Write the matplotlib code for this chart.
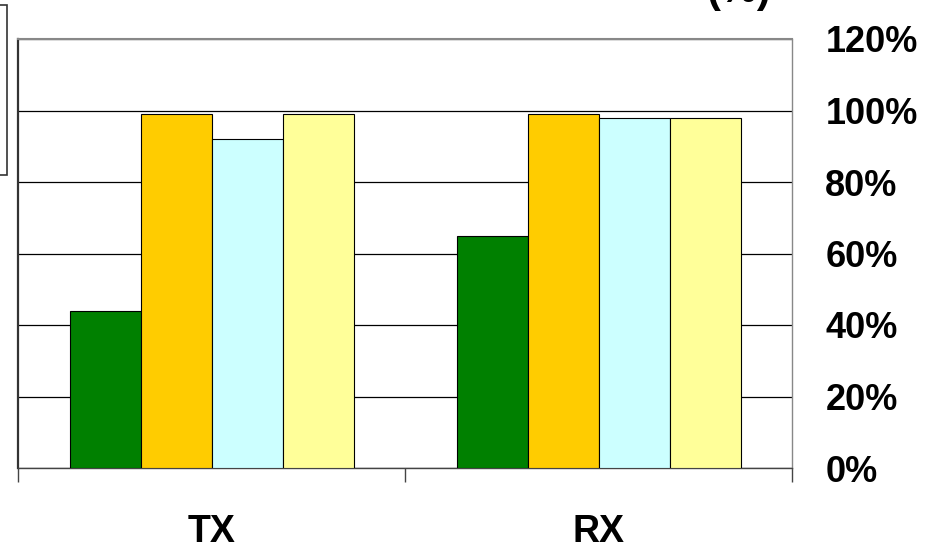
import numpy as np
import matplotlib
matplotlib.use('Agg')
from matplotlib import pyplot as plt
from matplotlib.patches import Rectangle

# data
categories = ['TX', 'RX']
series_green = [0.44, 0.65]
series_orange = [0.99, 0.99]
series_cyan = [0.92, 0.98]
series_yellow = [0.99, 0.98]
yticks = [0.0, 0.2, 0.4, 0.6, 0.8, 1.0, 1.2]
ytick_labels = ['0%', '20%', '40%', '60%', '80%', '100%', '120%']

colors = ['#008000', '#FFCC00', '#CCFFFF', '#FFFF99']
all_series = [series_green, series_orange, series_cyan, series_yellow]

plt.rcParams['font.family'] = ['Liberation Sans', 'DejaVu Sans']

W, H = 944, 551
fig = plt.figure(figsize=(W / 100, H / 100), dpi=100)
ax = fig.add_axes([18 / W, 83 / H, 774 / W, 429 / H])

x = np.arange(len(categories))
bw = 71 / 387
for i, (vals, c) in enumerate(zip(all_series, colors)):
    ax.bar(x + (i - 1.5) * bw, vals, width=bw, color=c, edgecolor='black',
           linewidth=0.8, zorder=3)

ax.set_xlim(-0.5, 1.5)
ax.set_ylim(0, 1.2)
ax.set_yticks(yticks)
ax.set_yticklabels(ytick_labels)
ax.yaxis.tick_right()
ax.tick_params(axis='y', length=0, pad=24, labelsize=26)
for lab in ax.get_yticklabels():
    lab.set_fontweight('bold')

ax.set_xticks(x)
ax.set_xticklabels(categories, fontsize=27, fontweight='bold')
ax.tick_params(axis='x', which='major', length=0, pad=33)
ax.set_xticks([-0.5, 0.5, 1.5], minor=True)
ax.tick_params(axis='x', which='minor', length=10, width=1, color='#444444')

ax.yaxis.grid(True, color='black', linewidth=0.9, zorder=0)
ax.set_axisbelow(True)

ax.spines['left'].set_color('#333333')
ax.spines['left'].set_linewidth(1.6)
ax.spines['top'].set_color('#888888')
ax.spines['top'].set_linewidth(1.5)
ax.spines['right'].set_color('#888888')
ax.spines['right'].set_linewidth(1.0)
ax.spines['bottom'].set_color('#444444')
ax.spines['bottom'].set_linewidth(1.0)

# cropped legend box on the left edge
fig.patches.append(Rectangle((-20 / W, 1 - 175 / H), 27 / W, 170 / H,
                             transform=fig.transFigure, fill=False,
                             edgecolor='#333333', linewidth=1.2))

# title, cut off by the top edge as in the reference
fig.text(739 / W, 1 - 2 / H, '(%)', ha='center', va='baseline',
         fontsize=30, fontweight='bold')

fig.savefig('out.png', dpi=100)
plt.close()
